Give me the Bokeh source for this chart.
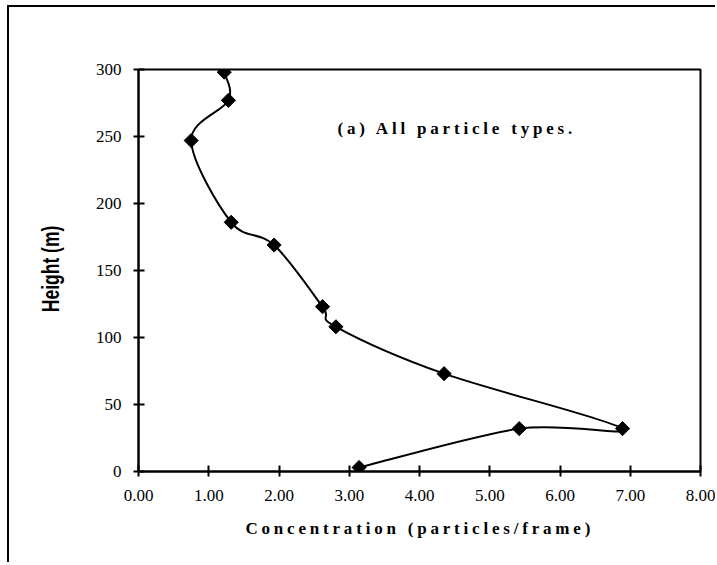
import numpy as np
from bokeh.plotting import figure
from bokeh.models import Label, NumeralTickFormatter, FixedTicker, Range1d
from bokeh.embed import file_html
from bokeh.resources import INLINE

# ---- data ----
height_m = [3, 32, 32, 73, 108, 123, 169, 186, 247, 277, 298]
concentration = [3.14, 5.42, 6.89, 4.35, 2.81, 2.62, 1.93, 1.32, 0.75, 1.28, 1.22]
x_ticks = [0, 1, 2, 3, 4, 5, 6, 7, 8]
y_ticks = [0, 50, 100, 150, 200, 250, 300]
x_title = "Concentration (particles/frame)"
y_title = "Height (m)"
note_text = "(a) All particle types."

# ---- smoothed line (Excel-like Catmull-Rom bezier segments) ----
xs = np.asarray(concentration, float)
ys = np.asarray(height_m, float)
xp = np.concatenate([[xs[0]], xs, [xs[-1]]])
yp = np.concatenate([[ys[0]], ys, [ys[-1]]])
x0, y0, x1, y1, cx0, cy0, cx1, cy1 = ([] for _ in range(8))
for i in range(len(xs) - 1):
    x0.append(xs[i]); y0.append(ys[i])
    x1.append(xs[i + 1]); y1.append(ys[i + 1])
    cx0.append(xs[i] + (xp[i + 2] - xp[i]) / 6.0)
    cy0.append(ys[i] + (yp[i + 2] - yp[i]) / 6.0)
    cx1.append(xs[i + 1] - (xp[i + 3] - xp[i + 1]) / 6.0)
    cy1.append(ys[i + 1] - (yp[i + 3] - yp[i + 1]) / 6.0)

W, H = 708, 557
L, R, T, B = 129, 17, 62, 93
XMIN, XMAX, YMIN, YMAX = 0, 8, 0, 300

p = figure(width=W, height=H, x_range=(XMIN, XMAX), y_range=(YMIN, YMAX),
           output_backend="svg", toolbar_location=None,
           min_border_left=L, min_border_right=R, min_border_top=T, min_border_bottom=B)
p.margin = (5, 0, 0, 7)
p.styles = {"border-left": "2px solid black", "border-top": "2px solid black"}

p.background_fill_color = "white"
p.border_fill_color = "white"
p.outline_line_color = "black"
p.outline_line_width = 2
p.xgrid.visible = False
p.ygrid.visible = False

p.bezier(x0=x0, y0=y0, x1=x1, y1=y1, cx0=cx0, cy0=cy0, cx1=cx1, cy1=cy1,
         line_color="black", line_width=2)
p.scatter(concentration, height_m, marker="square", angle=np.pi / 4, size=10,
          fill_color="black", line_color="black", line_width=1)

for ax in (p.xaxis[0], p.yaxis[0]):
    ax.axis_line_color = "black"
    ax.axis_line_width = 2
    ax.major_tick_line_color = "black"
    ax.major_tick_line_width = 2
    ax.major_tick_in = 6
    ax.major_tick_out = 5
    ax.minor_tick_line_color = None
    ax.major_label_text_font = "Liberation Serif"
    ax.major_label_text_font_size = "17px"
    ax.major_label_text_color = "black"

p.xaxis.ticker = FixedTicker(ticks=x_ticks)
p.yaxis.ticker = FixedTicker(ticks=y_ticks)
p.xaxis.formatter = NumeralTickFormatter(format="0.00")
p.yaxis.formatter = NumeralTickFormatter(format="0")
p.xaxis.major_label_standoff = 13
p.yaxis.major_label_standoff = 12

sx = (W - L - R) / (XMAX - XMIN)
sy = (H - T - B) / (YMAX - YMIN)


def overlay(styles):
    o = figure(width=W, height=H,
               x_range=Range1d(XMIN - L / sx, XMAX + R / sx),
               y_range=Range1d(YMIN - B / sy, YMAX + T / sy),
               output_backend="svg", toolbar_location=None,
               x_axis_location=None, y_axis_location=None,
               min_border_left=0, min_border_right=0, min_border_top=0, min_border_bottom=0)
    st = {"position": "absolute", "left": "9px", "top": "7px"}
    st.update(styles)
    o.styles = st
    o.background_fill_alpha = 0
    o.border_fill_alpha = 0
    o.outline_line_color = None
    o.xgrid.visible = False
    o.ygrid.visible = False
    return o


# letter-spaced bold serif texts
q = overlay({"letter-spacing": "3.8px"})
q.add_layout(Label(x=1.523, y=-42.5, text=x_title, text_align="left", text_baseline="middle",
                   text_font="Liberation Serif", text_font_style="bold",
                   text_font_size="17px", text_color="black"))
q.add_layout(Label(x=2.833, y=256, text=note_text, text_align="left", text_baseline="middle",
                   text_font="Liberation Serif", text_font_style="bold",
                   text_font_size="17px", text_color="black"))

# condensed heavy vertical axis title
r = overlay({"transform": "scaleY(0.73)", "transform-origin": "41px 263px"})
r.add_layout(Label(x=-1.2527, y=79, text=y_title, angle=np.pi / 2,
                   text_align="center", text_baseline="middle",
                   text_font="Liberation Sans", text_font_style="bold",
                   text_font_size="24px", text_color="black"))

open("out.html", "w").write(file_html([p, q, r], INLINE))
